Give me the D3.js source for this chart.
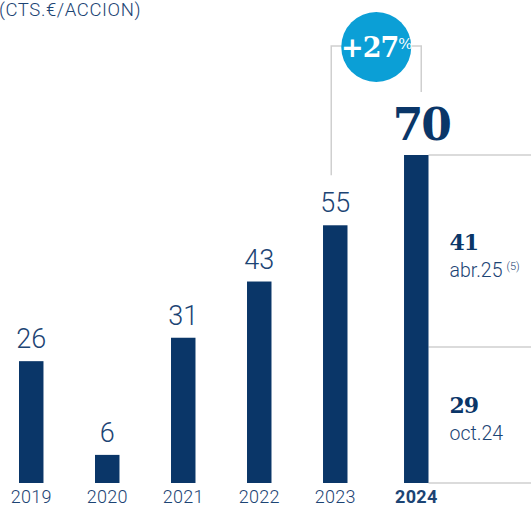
<!DOCTYPE html>
<html>
<head>
<meta charset="utf-8">
<script src="https://cdn.jsdelivr.net/npm/d3@7"></script>
<style>
  body { margin: 0; background: #fff; }
  svg { display: block; }
</style>
</head>
<body>
<script>
const years = ["2019", "2020", "2021", "2022", "2023", "2024"];
const values = [26, 6, 31, 43, 55, 70];
const splitValues = [29, 41];
const splitLabels = ["oct.24", "abr.25"];
const growthLabel = "+27";
const unitLabel = "(CTS.€/ACCION)";

const width = 531;
const height = 506;
const navy = "#0a3668";
const textBlue = "#1c4474";
const grey = "#cfcfcf";
const sans = "Roboto, 'Noto Sans', sans-serif";
const serif = "'DejaVu Serif', 'Liberation Serif', serif";

const svg = d3.select("body").append("svg")
  .attr("width", width)
  .attr("height", height);

const x = d3.scaleBand()
  .domain(years)
  .range([19, 423.5])
  .paddingInner(0.678)
  .paddingOuter(0);

const y = d3.scaleLinear().domain([0, 70]).range([483, 155]);

const last = years[years.length - 1];
const xPos = (d) => x(d) + (d === last ? 5 : 0);
const bw = x.bandwidth();

// unit label
svg.append("text")
  .attr("x", -1)
  .attr("y", 16)
  .attr("font-family", sans)
  .attr("font-weight", 300)
  .attr("font-size", 18.5)
  .attr("letter-spacing", 0.6)
  .attr("fill", textBlue)
  .text(unitLabel);

// grey guide lines to the right of 2024
const right = xPos(last) + bw;
[values[values.length - 1], splitValues[0], 0].forEach((v) => {
  svg.append("path")
    .attr("d", `M ${right} ${y(v)} H ${width}`)
    .attr("stroke", grey)
    .attr("stroke-width", 1.5)
    .attr("fill", "none");
});

// bars
svg.append("g")
  .selectAll("rect")
  .data(years)
  .join("rect")
  .attr("x", (d) => xPos(d))
  .attr("y", (d, i) => y(values[i]))
  .attr("width", bw)
  .attr("height", (d, i) => y(0) - y(values[i]))
  .attr("fill", navy);

// value labels (except last)
svg.append("g")
  .selectAll("text")
  .data(years.slice(0, -1))
  .join("text")
  .attr("x", (d) => xPos(d) + bw / 2)
  .attr("y", (d, i) => y(values[i]) - 13)
  .attr("text-anchor", "middle")
  .attr("font-family", sans)
  .attr("font-weight", 300)
  .attr("font-size", 27)
  .attr("fill", textBlue)
  .text((d, i) => values[i]);

// big value for 2024
svg.append("text")
  .attr("x", xPos(last) + bw / 2 + 5)
  .attr("y", y(values[5]) - 15)
  .attr("text-anchor", "middle")
  .attr("font-family", serif)
  .attr("font-weight", "bold")
  .attr("font-size", 44)
  .attr("letter-spacing", -2)
  .attr("fill", navy)
  .text(values[5]);

// year labels
svg.append("g")
  .selectAll("text")
  .data(years)
  .join("text")
  .attr("x", (d) => xPos(d) + bw / 2)
  .attr("y", 503)
  .attr("text-anchor", "middle")
  .attr("font-family", sans)
  .attr("font-weight", (d) => (d === last ? 700 : 300))
  .attr("font-size", 18)
  .attr("letter-spacing", 0.3)
  .attr("fill", textBlue)
  .text((d) => d);

// bracket 2023 -> 2024
const x23 = xPos(years[4]) + bw / 2 - 4;
const x24 = xPos(last) + bw / 2 + 5;
const topY = 46;
svg.append("path")
  .attr("d", `M ${x23} ${y(values[4]) - 50} V ${topY} H ${x24} V ${y(values[5]) - 63}`)
  .attr("stroke", grey)
  .attr("stroke-width", 1.5)
  .attr("fill", "none");

const cx = (x23 + x24) / 2;
svg.append("circle")
  .attr("cx", cx)
  .attr("cy", 47)
  .attr("r", 35)
  .attr("fill", "#0b9fd6");

const growth = svg.append("text")
  .attr("x", cx)
  .attr("y", 57)
  .attr("text-anchor", "middle")
  .attr("font-family", serif)
  .attr("font-weight", "bold")
  .attr("font-size", 27)
  .attr("letter-spacing", -1)
  .attr("fill", "#fff");
growth.append("tspan").text(growthLabel);
growth.append("tspan")
  .attr("font-size", 15)
  .attr("font-weight", "normal")
  .attr("dy", -8)
  .text("%");

// split annotations
const labX = right + 21;
splitValues.forEach((v, i) => {
  const num = i === 0 ? 413 : 250;
  svg.append("text")
    .attr("x", labX)
    .attr("y", num)
    .attr("font-family", serif)
    .attr("font-weight", "bold")
    .attr("font-size", 22)
    .attr("letter-spacing", -1)
    .attr("fill", navy)
    .text(v);
  const t = svg.append("text")
    .attr("x", labX)
    .attr("y", num + 27)
    .attr("font-family", sans)
    .attr("font-weight", 300)
    .attr("font-size", 19.5)
    .attr("fill", textBlue);
  t.append("tspan").text(splitLabels[i]);
  if (i === 1) {
    t.append("tspan")
      .attr("font-size", 11)
      .attr("dx", 4)
      .attr("dy", -7)
      .text("(5)");
  }
});
</script>
</body>
</html>
